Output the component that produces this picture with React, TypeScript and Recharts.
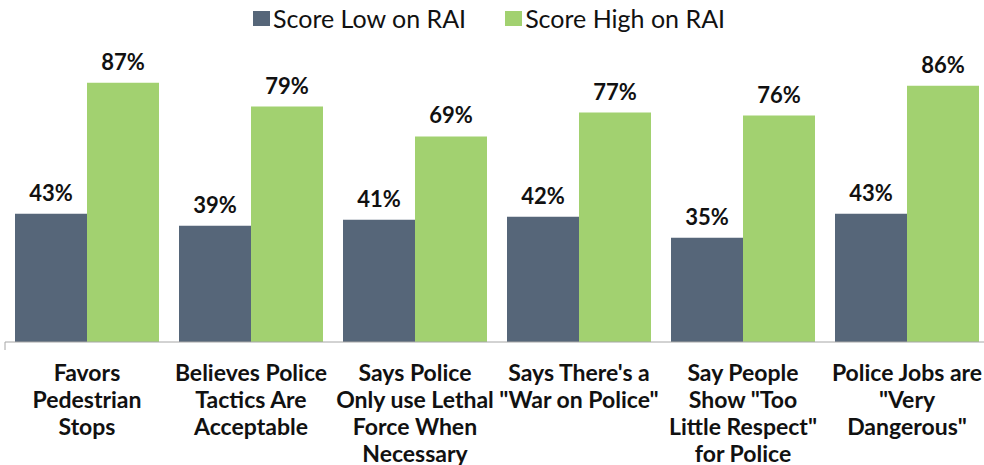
import { BarChart, Bar, XAxis, YAxis, LabelList } from 'recharts'

// ─── Data ─────────────────────────────────────────────────────────────────────

const CATEGORIES = [
  'Favors\nPedestrian\nStops',
  'Believes Police\nTactics Are\nAcceptable',
  'Says Police\nOnly use Lethal\nForce When\nNecessary',
  'Says There\'s a\n"War on Police"',
  'Say People\nShow "Too\nLittle Respect"\nfor Police',
  'Police Jobs are\n"Very\nDangerous"',
]

const LOW_RAI = [43, 39, 41, 42, 35, 43]
const HIGH_RAI = [87, 79, 69, 77, 76, 86]

const SERIES = [
  { key: 'low', name: 'Score Low on RAI', color: '#566679' },
  { key: 'high', name: 'Score High on RAI', color: '#a2d170' },
]

const data = CATEGORIES.map((label, i) => ({
  label,
  low: LOW_RAI[i],
  high: HIGH_RAI[i],
}))

const FONT = 'Lato, "Open Sans", sans-serif'

// ─── Axis tick: multi-line bold labels ───────────────────────────────────────

function CategoryTick(props: any) {
  const { x, y, payload, index } = props
  const lines = String(payload.value).split('\n')
  return (
    <g>
      {index === 0 && (
        <line x1={x - 82} x2={x - 82} y1={y} y2={y + 8} stroke="#a6a6a6" />
      )}
      <text
        x={x}
        y={y + 39}
        textAnchor="middle"
        fontFamily={FONT}
        fontWeight={700}
        fontSize={23}
        fill="#111"
      >
        {lines.map((line, i) => (
          <tspan key={i} x={x} dy={i === 0 ? 0 : 27}>
            {line}
          </tspan>
        ))}
      </text>
    </g>
  )
}

// ─── Legend ───────────────────────────────────────────────────────────────────

function ChartLegend() {
  return (
    <div
      style={{
        position: 'absolute',
        top: 4,
        left: 253,
        display: 'flex',
        gap: 39,
        fontFamily: FONT,
        fontSize: 25,
        color: '#111',
        lineHeight: '28px',
      }}
    >
      {SERIES.map((s) => (
        <div key={s.key} style={{ display: 'flex', alignItems: 'center', gap: 3 }}>
          <span style={{ width: 17, height: 15, background: s.color, display: 'inline-block' }} />
          <span>{s.name}</span>
        </div>
      ))}
    </div>
  )
}

// ─── Component ────────────────────────────────────────────────────────────────

export default function App() {
  return (
    <div
      style={{
        position: 'absolute',
        left: 0,
        top: 0,
        width: 984,
        height: 465,
        overflow: 'hidden',
        background: '#fff',
      }}
    >
      <BarChart
        width={984}
        height={465}
        data={data}
        margin={{ top: 44, right: -5, left: 5, bottom: 0 }}
        barCategoryGap={10}
        barGap={0}
      >
        <XAxis
          dataKey="label"
          axisLine={{ stroke: '#a6a6a6' }}
          tickLine={false}
          tickSize={0}
          tickMargin={0}
          height={123}
          interval={0}
          tick={<CategoryTick />}
        />
        <YAxis hide domain={[0, 100]} />
        {SERIES.map((s) => (
          <Bar key={s.key} dataKey={s.key} name={s.name} fill={s.color} isAnimationActive={false}>
            <LabelList
              dataKey={s.key}
              position="top"
              offset={13}
              formatter={(v: any) => `${v}%`}
              style={{ fontFamily: FONT, fontWeight: 700, fontSize: 22, fill: '#111' }}
            />
          </Bar>
        ))}
      </BarChart>
      <ChartLegend />
    </div>
  )
}
